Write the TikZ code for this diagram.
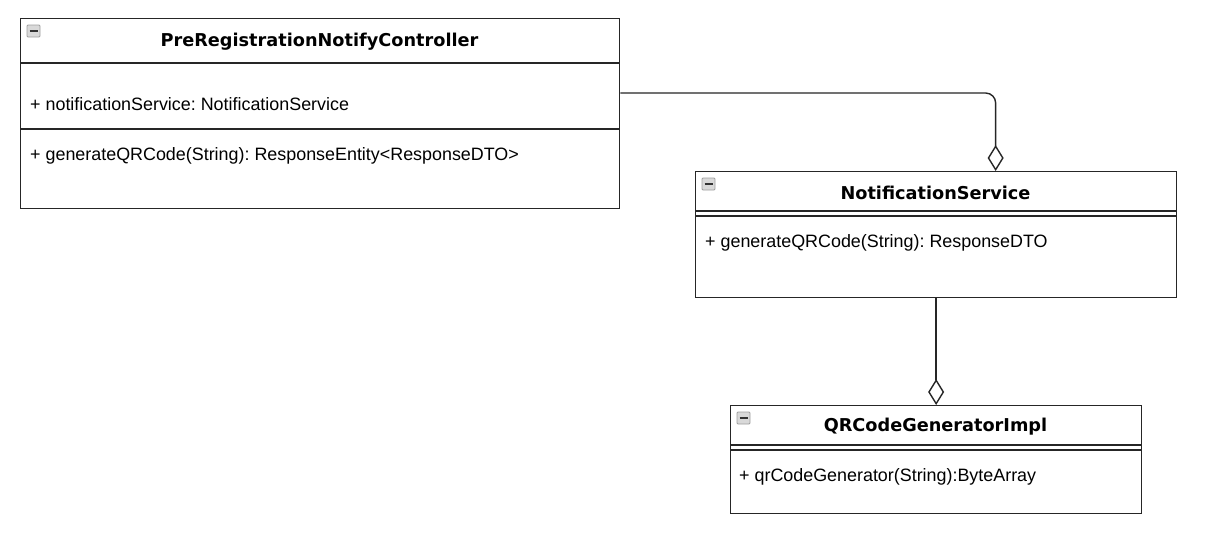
\documentclass[tikz,border=0pt]{standalone}
\usepackage{fontspec}
\setmainfont{Liberation Sans}
\newfontfamily\titlefont{DejaVu Sans}
\usetikzlibrary{arrows.meta}
\frenchspacing
\tikzset{
  box/.style={draw=black!85, line width=1.3pt, anchor=north west, inner sep=0pt, fill=white},
  sep/.style={draw=black!85, line width=1.3pt},
  title/.style={inner sep=0pt, font=\titlefont\bfseries\fontsize{17.7}{20}\selectfont},
  member/.style={inner sep=0pt, anchor=west, font=\frenchspacing\fontsize{17.9}{20}\selectfont},
  conn/.style={draw=black!85, line width=1.4pt},
  agg/.style={-{Diamond[open, fill=white, length=26pt, width=16pt, line width=1.4pt]}},
  icon/.style={draw=gray!75, fill=gray!30, rounded corners=1pt, line width=0.8pt},
  minus/.style={line width=1.5pt, black!80}
}
\begin{document}
\begin{tikzpicture}[x=1pt,y=-1pt]
\useasboundingbox (0,0) rectangle (1214,536);
\fill[white] (0,0) rectangle (1214,536);
% Box 1
\node[box, minimum width=599pt, minimum height=190pt] (c1) at (20,18) {};
\draw[sep] (20,63) -- (619,63);
\draw[sep] (20,129) -- (619,129);
\node[title] (c1t) at (319.5,42) {PreRegistrationNotifyController};
\node[member] (c1a) at (30,104) {+ notificationService: NotificationService};
\node[member] (c1m) at (30,156) {+ generateQRCode(String): ResponseEntity<ResponseDTO>};
\draw[icon] (27,25) rectangle (40,37);
\draw[minus] (29.5,31) -- (37.5,31);
% Box 2
\node[box, minimum width=481pt, minimum height=126pt] (c2) at (695,171) {};
\draw[sep] (695,211) -- (1176,211);
\draw[sep] (695,216) -- (1176,216);
\node[title] (c2t) at (935.5,193) {NotificationService};
\node[member] (c2m) at (705,243) {+ generateQRCode(String): ResponseDTO};
\draw[icon] (702,178) rectangle (715,190);
\draw[minus] (704.5,184) -- (712.5,184);
% Box 3
\node[box, minimum width=411pt, minimum height=108pt] (c3) at (730,405) {};
\draw[sep] (730,445) -- (1141,445);
\draw[sep] (730,450) -- (1141,450);
\node[title] (c3t) at (935.5,427) {QRCodeGeneratorImpl};
\node[member] (c3m) at (739,477) {+ qrCodeGenerator(String):ByteArray};
\draw[icon] (737,412) rectangle (750,424);
\draw[minus] (739.5,418) -- (747.5,418);
% Connectors
\draw[conn, agg, rounded corners=10pt] ([yshift=-75pt]c1.north east) -| ([xshift=59.5pt]c2.north);
\draw[conn, agg] (c2.south) -- (c3.north);
\end{tikzpicture}
\end{document}
